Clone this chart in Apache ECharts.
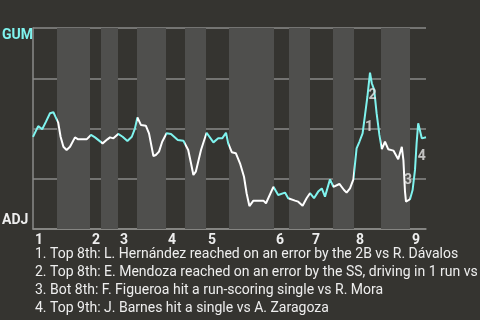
<!DOCTYPE html>
<html><head><meta charset="utf-8">
<script src="https://cdn.jsdelivr.net/npm/echarts@6/dist/echarts.min.js"></script>
<style>html,body{margin:0;padding:0;background:#353430;}#c{width:480px;height:320px;}</style>
</head><body><div id="c"></div>
<script>
// play progress (x) and GUM win probability in %
const playX = [0,1.3,2.3,3.25,4.25,5.1,5.6,6.3,6.9,7.6,8.4,9.25,10.5,11.3,13.4,14.5,15.5,17.4,18.6,19.25,20.1,21.3,22.4,23.6,24.7,25.5,26.1,27,28.2,29,30.1,30.7,31.5,32.3,33.4,34.5,36.2,37.6,38.8,39.5,40.1,40.7,42,43.4,45.1,46.3,47.3,48.25,48.8,49.7,50.7,51.75,52.75,53.4,54.1,55.1,57.6,58.25,60.1,61.3,63,63.8,65.5,66.3,67.4,68.4,69.25,70.25,71.3,72.2,73,74.25,75.1,76.6,77.75,78.4,79.25,80.1,80.9,81.6,82.4,83,83.6,84.25,84.7,85.3,85.9,86.6,87.2,88,88.8,90.1,91.3,92.2,92.6,93,93.25,94.25,94.9,95.5,95.9,96.3,97.2,98.25];
const gumWinPct = [45.8,51.2,49.6,53.4,57.6,58.1,55.9,52.9,45.9,40.9,39.3,40.9,45.6,44.6,44.6,46.8,45.6,42.6,44.6,45.6,45.1,47.3,45.9,43.8,45.9,50.1,55.5,51.7,51.4,47.6,36.3,36.8,38.5,43.4,47.6,47.3,44.3,43.9,39.3,32.7,26.9,28.5,39.3,47.9,43.1,45.1,45.1,47.9,42.6,38.2,37.7,32.7,26.0,17.8,11.4,14.1,14.1,12.8,21.0,16.9,18.1,15.3,14.1,13.6,11.6,15.3,17.8,15.3,18.6,20.2,16.1,24.7,21.0,22.4,19.4,18.1,20.2,24.7,40.1,43.4,47.6,56.7,65.8,77.8,72.5,69.2,57.6,46.8,39.7,43.4,39.7,39.0,34.7,40.9,34.3,18.6,13.6,14.8,19.4,29.4,42.6,52.6,45.1,45.6];
// half-inning boundaries (in play units)
const halfInningBounds = [0,6,14.25,17,21.25,26,33.25,38,43.25,49,60.25,64,69.25,75,80.25,87,94.25,98.25];
const inningStarts = [0,14.25,21.25,33.25,43.25,60.25,69.25,80.25,94.25];
const inningLabels = ['1','2','3','4','5','6','7','8','9'];
const teamTop = 'GUM';
const teamBottom = 'ADJ';
const annoX = [84.0,84.9,93.75,97.2];
const annoP = [50.5,66.2,23.9,36.3];
const annoText = ['1','2','3','4'];
const footnotes = [
  '1. Top 8th: L. Hernández reached on an error by the 2B vs R. Dávalos',
  '2. Top 8th: E. Mendoza reached on an error by the SS, driving in 1 run vs',
  '3. Bot 8th: F. Figueroa hit a run-scoring single vs R. Mora',
  '4. Top 9th: J. Barnes hit a single vs A. Zaragoza'
];

const CYAN = '#7ff3ee';
const FONT = 'Roboto';
const lightBands = [];
const pieces = [];
for (let i = 0; i < halfInningBounds.length - 1; i++) {
  const a = halfInningBounds[i], b = halfInningBounds[i+1];
  const isTop = i % 2 === 0;
  if (!isTop) lightBands.push([{xAxis: a}, {xAxis: b}]);
  const p = {gte: a, lt: b, color: isTop ? CYAN : '#ffffff'};
  if (i === halfInningBounds.length - 2) { p.lt = b + 10; }
  if (i === 0) { p.gte = a - 10; }
  pieces.push(p);
}
const lineData = playX.map((x, i) => [x, gumWinPct[i]]);
const annoData = annoX.map((x, i) => ({value: [x, annoP[i]], label: {formatter: annoText[i]}}));

const chart = echarts.init(document.getElementById('c'), null, {renderer: 'canvas'});
chart.setOption({
  backgroundColor: '#353430',
  animation: false,
  grid: {left: 33, right: 54, top: 28, bottom: 91},
  xAxis: {
    type: 'value', min: 0, max: 98.25,
    axisLine: {show: true, lineStyle: {color: '#8a8a88', width: 1.5}},
    axisTick: {show: false},
    splitLine: {show: false},
    axisLabel: {
      customValues: inningStarts,
      formatter: v => { const i = inningStarts.findIndex(s => Math.abs(s - v) < 1e-6); return i >= 0 ? inningLabels[i] : ''; },
      align: 'left', padding: [0, 0, 0, 2], margin: 4,
      color: '#eeeeee', fontSize: 14, fontWeight: 'bold', fontFamily: FONT
    }
  },
  yAxis: {
    type: 'value', min: 0, max: 100, interval: 25,
    axisLine: {show: true, lineStyle: {color: '#8a8a88', width: 1.5}},
    axisTick: {show: false},
    axisLabel: {show: false},
    splitLine: {show: true, lineStyle: {color: '#8a8a88', width: 1.5}}
  },
  visualMap: {show: false, type: 'piecewise', dimension: 0, seriesIndex: 0, pieces: pieces},
  graphic: [
    {type: 'text', left: 2, top: 28, style: {text: teamTop, fill: CYAN, font: 'bold 14px ' + FONT}},
    {type: 'text', left: 2, top: 213, style: {text: teamBottom, fill: '#eeeeee', font: 'bold 14px ' + FONT}},
    {type: 'text', left: 35, top: 245, style: {text: footnotes.join('\n'), fill: '#eeeeee', font: '14px ' + FONT, lineHeight: 18}}
  ],
  series: [
    {
      type: 'line', data: lineData, showSymbol: false, symbol: 'none',
      lineStyle: {width: 2},
      markArea: {silent: true, itemStyle: {color: '#4f4f4d'}, data: lightBands}
    },
    {
      type: 'scatter', data: annoData, symbolSize: 0, silent: true, z: 5,
      label: {show: true, position: 'inside', color: '#e6e6e6', fontSize: 14, fontWeight: 'bold', fontFamily: FONT}
    }
  ]
});
</script></body></html>
